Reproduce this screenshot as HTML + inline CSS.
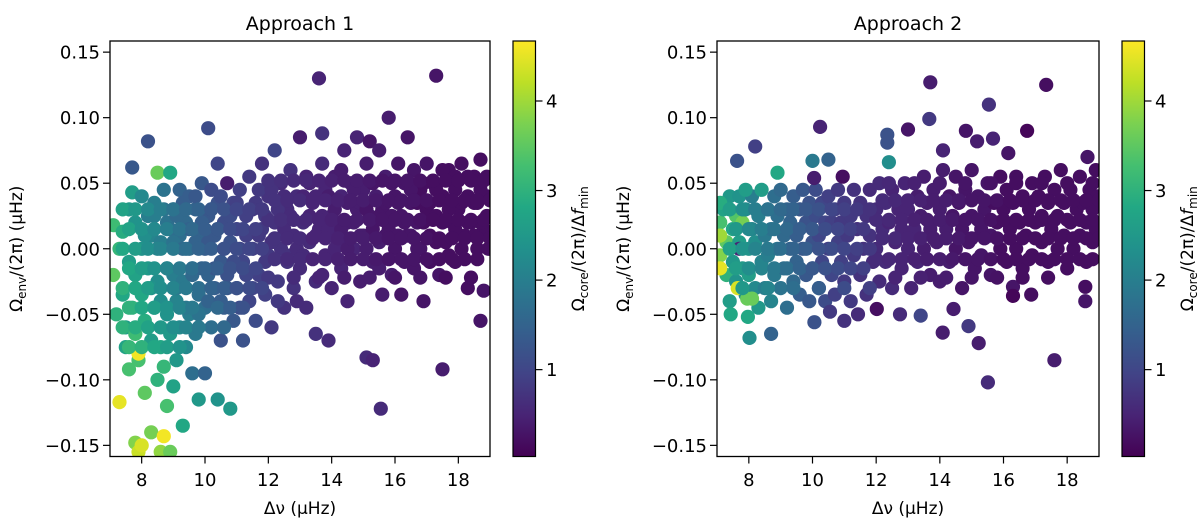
<!DOCTYPE html>
<html><head><meta charset="utf-8"><style>
html,body{margin:0;padding:0;background:#fff;}
svg{display:block;font-family:"DejaVu Sans","Liberation Sans",sans-serif;}
</style></head><body>
<svg id="fig" width="1200" height="523" viewBox="0 0 1200 523" xmlns="http://www.w3.org/2000/svg">
<defs>
<linearGradient id="vir" x1="0" y1="1" x2="0" y2="0">
<stop offset="0" stop-color="#440154"/><stop offset="0.1" stop-color="#482475"/><stop offset="0.2" stop-color="#414487"/><stop offset="0.3" stop-color="#355f8d"/><stop offset="0.4" stop-color="#2a788e"/><stop offset="0.5" stop-color="#21918c"/><stop offset="0.6" stop-color="#22a884"/><stop offset="0.7" stop-color="#44bf70"/><stop offset="0.8" stop-color="#7ad151"/><stop offset="0.9" stop-color="#bddf26"/><stop offset="1" stop-color="#fde725"/>
</linearGradient>
</defs>
</svg>
<script>
// ---- data: [dnu (uHz), Omega_env/2pi (uHz), Omega_core/2pi/dfmin]
const xTicks = [8,10,12,14,16,18];
const yTicks = [-0.15,-0.10,-0.05,0.00,0.05,0.10,0.15];
const yTickLabels = ["\u22120.15","\u22120.10","\u22120.05","0.00","0.05","0.10","0.15"];
const cTicks = [1,2,3,4];
const titles = ["Approach 1","Approach 2"];
const points1 = [[7.1,0.018,3.2],[7.1,-0.02,3.5],[7.2,-0.05,3.0],[7.3,-0.117,4.5],[7.3,0.0,3.1],[7.4,-0.035,2.8],[7.4,0.013,2.9],[7.5,-0.06,2.6],[7.5,-0.075,2.7],[7.6,0.03,2.5],[7.6,-0.01,2.6],[7.6,-0.092,3.3],[7.7,-0.045,3.0],[7.7,0.043,2.6],[7.7,0.062,1.3],[7.8,-0.065,3.2],[7.8,-0.02,2.7],[7.8,0.02,2.4],[7.8,-0.148,3.8],[7.9,-0.155,4.3],[7.9,-0.085,3.3],[7.9,-0.08,4.6],[8.0,0.0,2.4],[8.0,-0.035,2.8],[8.0,0.04,2.2],[8.0,-0.15,4.4],[8.1,-0.11,3.5],[8.1,-0.055,2.9],[8.2,0.082,1.2],[8.2,0.025,2.0],[8.2,-0.015,2.5],[8.3,-0.07,2.6],[8.3,-0.14,3.7],[8.3,0.01,2.1],[8.4,-0.045,2.6],[8.4,0.035,2.0],[8.5,-0.1,3.0],[8.5,-0.025,2.3],[8.5,0.058,3.6],[8.6,-0.075,2.8],[8.6,0.005,2.0],[8.6,-0.155,3.9],[8.7,0.045,1.8],[8.7,-0.09,3.1],[8.7,-0.143,4.6],[8.8,-0.05,2.4],[8.8,0.02,1.8],[8.8,-0.12,3.3],[8.9,-0.155,3.6],[8.9,-0.065,2.5],[8.9,0.058,2.8],[9.0,-0.02,2.0],[9.0,0.03,1.7],[9.0,-0.105,2.7],[9.1,-0.085,2.5],[9.1,-0.04,2.1],[9.2,0.01,1.7],[9.2,0.045,1.5],[9.2,-0.06,2.2],[9.3,-0.135,2.8],[9.3,-0.025,1.9],[9.4,0.02,1.6],[9.4,-0.075,2.2],[9.5,-0.05,2.0],[9.5,0.0,1.6],[9.5,0.04,1.4],[9.6,-0.095,1.7],[9.6,-0.015,1.7],[9.7,0.03,1.5],[9.7,-0.065,1.9],[9.8,-0.115,2.5],[9.8,0.01,1.5],[9.8,-0.035,1.7],[9.9,0.05,1.3],[10.0,-0.045,1.7],[10.0,0.0,1.4],[10.0,-0.095,1.5],[10.1,0.025,1.3],[10.1,0.092,1.1],[10.1,-0.02,1.5],[10.2,0.045,1.1],[10.2,-0.06,1.7],[10.3,0.01,1.3],[10.3,-0.03,1.4],[10.4,-0.115,2.4],[10.4,0.065,1.0],[10.4,0.035,1.2],[10.5,-0.01,1.3],[10.5,-0.07,1.2],[10.6,0.02,1.1],[10.6,-0.045,1.4],[10.7,0.05,0.4],[10.7,-0.02,1.2],[10.8,-0.122,2.5],[10.8,0.005,1.2],[10.9,0.035,1.0],[10.9,-0.055,1.3],[11.0,-0.03,1.1],[11.0,0.015,1.0],[11.1,0.045,0.9],[11.2,-0.01,1.0],[11.2,-0.07,1.2],[11.3,0.025,0.9],[11.4,-0.04,1.0],[11.4,0.055,0.8],[11.5,0.0,0.9],[11.6,-0.055,1.1],[11.6,0.035,0.8],[11.7,-0.02,0.9],[11.8,0.015,0.8],[11.8,0.065,0.7],[11.9,-0.035,0.9],[12.0,0.04,0.7],[12.0,-0.005,0.8],[12.1,-0.06,0.8],[12.2,0.02,0.7],[12.2,0.075,1.0],[12.3,-0.025,0.8],[12.4,0.05,0.6],[12.4,0.0,0.7],[12.5,-0.045,0.7],[12.6,0.03,0.6],[12.6,-0.01,0.7],[12.7,0.06,0.7],[12.8,-0.03,0.7],[12.8,0.01,0.6],[12.9,0.04,0.6],[13.0,-0.015,0.6],[13.0,0.085,0.4],[13.1,0.02,0.6],[13.2,-0.045,0.6],[13.2,0.055,0.5],[13.3,0.005,0.6],[13.4,0.035,0.5],[13.5,-0.025,0.6],[13.5,-0.065,0.7],[13.6,0.13,0.5],[13.6,0.015,0.5],[13.7,0.065,0.6],[13.7,0.088,0.7],[13.8,-0.005,0.5],[13.8,0.045,0.5],[13.9,-0.07,0.6],[14.0,0.025,0.5],[14.0,-0.03,0.5],[14.1,0.055,0.4],[14.2,0.005,0.5],[14.3,0.04,0.5],[14.3,-0.015,0.5],[14.4,0.075,0.5],[14.5,0.02,0.4],[14.5,-0.04,0.5],[14.6,0.05,0.4],[14.7,0.0,0.5],[14.8,0.03,0.4],[14.8,0.085,0.5],[14.9,-0.025,0.4],[15.0,0.045,0.4],[15.0,0.01,0.4],[15.1,-0.083,0.6],[15.1,0.065,0.4],[15.2,0.025,0.4],[15.2,0.082,0.3],[15.3,-0.01,0.4],[15.3,-0.085,0.5],[15.4,0.04,0.4],[15.5,0.005,0.4],[15.5,0.075,0.4],[15.55,-0.122,0.6],[15.6,0.03,0.3],[15.6,-0.035,0.4],[15.7,0.055,0.4],[15.8,0.015,0.3],[15.8,0.1,0.4],[15.9,-0.02,0.4],[16.0,0.04,0.3],[16.0,0.0,0.3],[16.1,0.065,0.3],[16.2,0.025,0.3],[16.2,-0.035,0.3],[16.3,0.05,0.3],[16.4,0.01,0.3],[16.4,0.085,0.3],[16.5,0.035,0.3],[16.6,-0.015,0.3],[16.6,0.06,0.3],[16.7,0.02,0.3],[16.8,0.045,0.2],[16.8,0.0,0.3],[16.9,-0.04,0.3],[17.0,0.03,0.2],[17.0,0.065,0.3],[17.1,0.01,0.2],[17.2,0.05,0.2],[17.3,0.132,0.3],[17.3,0.025,0.2],[17.4,-0.02,0.3],[17.5,0.04,0.2],[17.5,-0.092,0.4],[17.6,0.005,0.2],[17.7,0.06,0.2],[17.8,0.02,0.2],[17.9,0.045,0.2],[17.9,-0.01,0.2],[18.0,0.03,0.2],[18.1,0.065,0.2],[18.2,0.01,0.2],[18.3,0.04,0.2],[18.3,-0.03,0.2],[18.4,0.02,0.2],[18.5,0.055,0.2],[18.6,0.0,0.2],[18.6,0.035,0.2],[18.7,0.068,0.2],[18.7,-0.055,0.3],[18.8,0.015,0.2],[18.8,-0.032,0.3],[18.9,0.04,0.2],[18.95,0.0,0.2],
[8.1,0.01,2.3],[8.3,-0.03,2.4],[8.4,0.025,2.0],[8.5,0.0,2.1],[8.6,-0.04,2.3],[8.7,0.03,1.8],[8.8,-0.015,2.0],[8.9,0.015,1.7],[9.0,0.005,1.8],[9.1,-0.03,1.9],[9.1,0.025,1.6],[9.3,0.0,1.6],[9.3,0.035,1.4],[9.4,-0.045,1.9],[9.5,0.015,1.5],[9.6,-0.02,1.6],[9.7,0.005,1.5],[9.7,0.04,1.3],[9.8,-0.05,1.8],[9.9,0.02,1.4],[9.9,-0.015,1.5],[10.1,-0.04,1.5],[10.1,0.005,1.3],[10.2,0.03,1.2],[10.3,-0.015,1.3],[10.4,0.015,1.2],[10.5,-0.04,1.4],[10.5,0.04,1.1],[10.6,0.0,1.2],[10.7,-0.03,1.3],[10.8,0.025,1.1],[10.9,-0.01,1.1],[11.0,0.035,0.9],[11.1,-0.045,1.1],[11.1,0.0,1.0],[11.3,0.01,0.9],[11.3,-0.02,1.0],[11.5,0.03,0.8],[11.5,-0.03,1.0],[11.7,0.01,0.8],[11.7,0.045,0.8],[11.9,-0.01,0.8],[11.9,0.025,0.8],[12.1,0.005,0.7],[12.1,0.045,0.7],[12.3,0.03,0.7],[12.3,-0.04,0.8],[12.5,0.015,0.6],[12.5,0.04,0.6],[12.7,-0.005,0.7],[12.7,0.025,0.6],[12.9,0.0,0.6],[12.9,-0.04,0.6],[13.1,0.04,0.5],[13.1,-0.005,0.6],[13.3,0.025,0.5],[13.3,0.05,0.5],[13.5,0.01,0.5],[13.5,0.04,0.5],[13.7,0.025,0.5],[13.7,-0.02,0.5],[13.9,0.015,0.5],[13.9,0.04,0.4],[14.1,0.0,0.5],[14.1,0.03,0.4],[14.3,0.015,0.4],[14.3,0.06,0.4],[14.5,0.035,0.4],[14.5,0.0,0.4],[14.7,0.02,0.4],[14.7,0.045,0.4],[14.9,0.01,0.4],[14.9,0.035,0.4],[15.1,0.0,0.4],[15.1,0.03,0.3],[15.3,0.015,0.3],[15.3,0.05,0.3],[15.5,0.025,0.3],[15.5,-0.015,0.4],[15.7,0.01,0.3],[15.7,0.035,0.3],[15.9,0.025,0.3],[15.9,0.05,0.3],[16.1,0.01,0.3],[16.1,0.035,0.3],[16.3,0.02,0.3],[16.3,-0.01,0.3],[16.5,0.045,0.3],[16.5,0.01,0.3],[16.7,0.035,0.2],[16.7,0.0,0.3],[16.9,0.02,0.2],[16.9,0.05,0.2],[17.1,0.035,0.2],[17.1,-0.01,0.2],[17.3,0.045,0.2],[17.3,0.005,0.2],[17.5,0.02,0.2],[17.5,0.06,0.2],[17.7,0.03,0.2],[17.7,-0.005,0.2],[17.9,0.015,0.2],[17.9,0.055,0.2],[18.1,0.035,0.2],[18.1,0.0,0.2],[18.3,0.02,0.2],[18.3,0.055,0.2],[18.5,0.035,0.2],[18.5,0.01,0.2],[18.7,0.045,0.2],[18.7,0.02,0.2],[18.9,0.025,0.2],[18.9,0.055,0.2],
[12.2,0.008,0.7],[12.6,0.008,0.6],[13.0,0.008,0.6],[13.4,0.008,0.5],[13.8,0.008,0.5],[14.2,0.008,0.45],[14.6,0.008,0.4],[15.0,0.008,0.4],[15.4,0.008,0.35],[15.8,0.008,0.3],[16.2,0.008,0.3],[16.6,0.008,0.3],[17.0,0.008,0.25],[17.4,0.008,0.2],[17.8,0.008,0.2],[18.2,0.008,0.2],[18.6,0.008,0.2],[19.0,0.008,0.2],
[12.0,0.022,0.7],[12.4,0.022,0.65],[12.8,0.022,0.6],[13.2,0.022,0.55],[13.6,0.022,0.5],[14.0,0.022,0.45],[14.4,0.022,0.4],[14.8,0.022,0.4],[15.2,0.022,0.35],[15.6,0.022,0.3],[16.0,0.022,0.3],[16.4,0.022,0.3],[16.8,0.022,0.25],[17.2,0.022,0.2],[17.6,0.022,0.2],[18.0,0.022,0.2],[18.4,0.022,0.2],[18.8,0.022,0.2],
[12.2,0.037,0.7],[12.6,0.037,0.6],[13.0,0.037,0.6],[13.4,0.037,0.5],[13.8,0.037,0.5],[14.2,0.037,0.45],[14.6,0.037,0.4],[15.0,0.037,0.4],[15.4,0.037,0.35],[15.8,0.037,0.3],[16.2,0.037,0.3],[16.6,0.037,0.3],[17.0,0.037,0.25],[17.4,0.037,0.2],[17.8,0.037,0.2],[18.2,0.037,0.2],[18.6,0.037,0.2],[19.0,0.037,0.2],
[12.0,0.052,0.7],[12.4,0.052,0.65],[12.8,0.052,0.6],[13.2,0.052,0.55],[13.6,0.052,0.5],[14.0,0.052,0.45],[14.4,0.052,0.4],[14.8,0.052,0.4],[15.2,0.052,0.35],[15.6,0.052,0.3],[16.0,0.052,0.3],[16.4,0.052,0.3],[16.8,0.052,0.25],[17.2,0.052,0.2],[17.6,0.052,0.2],[18.0,0.052,0.2],[18.4,0.052,0.2],[18.8,0.052,0.2],
[12.2,-0.008,0.7],[12.6,-0.008,0.6],[13.0,-0.008,0.6],[13.4,-0.008,0.5],[13.8,-0.008,0.5],[14.2,-0.008,0.45],[14.6,-0.008,0.4],[15.0,-0.008,0.4],[15.4,-0.008,0.35],[15.8,-0.008,0.3],[16.2,-0.008,0.3],[16.6,-0.008,0.3],[17.0,-0.008,0.25],[17.4,-0.008,0.2],[17.8,-0.008,0.2],[18.2,-0.008,0.2],[18.6,-0.008,0.2],
[12.0,-0.022,0.8],[12.8,-0.022,0.6],[13.6,-0.022,0.5],[14.4,-0.022,0.4],[15.2,-0.022,0.4],[16.0,-0.022,0.3],[16.8,-0.022,0.3],[17.6,-0.022,0.2],[18.4,-0.022,0.2],
[7.4,0.03,2.7],[7.8,0.03,2.5],[8.2,0.03,2.2],[8.6,0.03,2.0],[9.0,0.03,1.8],[9.4,0.03,1.6],[9.8,0.03,1.5],[10.2,0.03,1.3],[10.6,0.03,1.2],[11.0,0.03,1.0],[11.4,0.03,0.9],[11.8,0.03,0.8],
[7.6,0.015,2.7],[8.0,0.015,2.4],[8.4,0.015,2.2],[8.8,0.015,2.0],[9.2,0.015,1.8],[9.6,0.015,1.6],[10.0,0.015,1.4],[10.4,0.015,1.3],[10.8,0.015,1.1],[11.2,0.015,1.0],[11.6,0.015,0.9],
[7.4,0.0,2.8],[7.8,0.0,2.6],[8.2,0.0,2.3],[8.6,0.0,2.1],[9.0,0.0,1.9],[9.4,0.0,1.7],[9.8,0.0,1.5],[10.2,0.0,1.4],[10.6,0.0,1.2],[11.0,0.0,1.1],[11.4,0.0,1.0],[11.8,0.0,0.9],
[7.6,-0.015,2.8],[8.0,-0.015,2.6],[8.4,-0.015,2.4],[8.8,-0.015,2.1],[9.2,-0.015,1.9],[9.6,-0.015,1.7],[10.0,-0.015,1.5],[10.4,-0.015,1.4],[10.8,-0.015,1.2],[11.2,-0.015,1.1],[11.6,-0.015,1.0],
[7.4,-0.03,3.0],[7.8,-0.03,2.8],[8.2,-0.03,2.6],[8.6,-0.03,2.3],[9.0,-0.03,2.1],[9.4,-0.03,1.9],[9.8,-0.03,1.7],[10.2,-0.03,1.5],[10.6,-0.03,1.4],[11.0,-0.03,1.2],[11.4,-0.03,1.1],[11.8,-0.03,1.0],
[7.6,-0.045,3.0],[8.0,-0.045,2.8],[8.4,-0.045,2.6],[8.8,-0.045,2.4],[9.2,-0.045,2.1],[9.6,-0.045,1.9],[10.4,-0.045,1.6],[10.8,-0.045,1.4],[11.2,-0.045,1.2],
[7.4,-0.06,3.0],[7.8,-0.06,2.9],[8.2,-0.06,2.7],[8.6,-0.06,2.5],[9.0,-0.06,2.3],[9.4,-0.06,2.1],[9.8,-0.06,1.9],[10.6,-0.06,1.6],
[7.6,-0.075,3.1],[8.0,-0.075,3.0],[8.4,-0.075,2.8],[8.8,-0.075,2.6],[9.2,-0.075,2.4]];
const points2 = [[7.1,0.02,3.3],[7.1,-0.005,3.8],[7.2,0.03,2.7],[7.3,-0.02,3.0],[7.3,0.005,3.5],[7.4,0.04,2.5],[7.4,-0.04,2.6],[7.5,0.015,2.8],[7.5,-0.01,2.5],[7.6,0.025,3.4],[7.6,-0.025,2.4],[7.7,0.005,2.6],[7.7,0.04,2.4],[7.8,-0.015,2.5],[7.8,0.02,3.7],[7.9,-0.035,2.3],[7.9,0.03,2.2],[8.0,0.0,2.4],[8.0,-0.02,2.6],[8.1,0.015,2.1],[8.1,0.04,2.0],[8.2,-0.03,2.2],[8.2,0.005,2.3],[8.3,0.025,2.0],[8.3,-0.045,2.5],[8.4,-0.01,2.1],[8.4,0.045,2.6],[8.5,0.01,1.9],[8.5,-0.03,2.0],[8.6,0.03,1.8],[8.6,-0.005,2.0],[8.7,-0.04,2.1],[8.7,0.015,1.8],[8.8,0.04,1.7],[8.8,-0.02,1.9],[8.9,0.0,1.8],[8.9,0.025,1.7],[9.0,-0.03,1.8],[9.0,0.045,1.6],[9.1,0.01,1.6],[9.1,-0.015,1.7],[9.2,0.03,1.5],[9.2,-0.045,1.7],[9.3,0.0,1.5],[9.3,0.02,1.5],[9.4,-0.025,1.6],[9.4,0.04,1.4],[9.5,0.01,1.4],[9.5,-0.01,1.5],[9.6,0.03,1.3],[9.6,-0.035,1.4],[9.7,0.0,1.3],[9.7,0.045,1.3],[9.8,-0.02,1.3],[9.8,0.02,1.2],[9.9,0.035,1.2],[9.9,-0.04,1.3],[10.0,0.005,1.2],[10.0,-0.015,1.2],[10.1,0.025,1.1],[10.1,0.045,1.1],[10.2,-0.03,1.1],[10.2,0.01,1.0],[10.3,0.035,1.0],[10.3,-0.01,1.0],[10.4,0.02,1.0],[10.4,-0.04,1.1],[10.5,0.0,0.9],[10.5,0.04,0.9],[10.6,-0.02,1.0],[10.6,0.02,0.9],[10.7,0.03,0.9],[10.7,-0.035,0.9],[10.8,0.005,0.9],[10.8,0.045,0.8],[10.9,-0.01,0.9],[10.9,0.02,0.8],[11.0,0.035,0.8],[11.0,-0.025,0.8],[11.1,0.01,0.8],[11.2,-0.04,0.8],[11.2,0.025,0.8],[11.3,0.045,0.7],[11.3,-0.005,0.8],[11.4,0.015,0.7],[11.5,-0.02,0.7],[11.5,0.035,0.7],[11.6,0.0,0.7],[11.7,0.025,0.7],[11.7,-0.035,0.7],[11.8,0.045,0.6],[11.8,0.01,0.7],[11.9,-0.01,0.6],[12.0,0.03,0.6],[12.0,0.0,0.6],[12.1,0.05,0.6],[12.1,-0.025,0.6],[12.2,0.015,0.6],[12.3,0.035,0.6],[12.3,-0.01,0.6],[12.4,0.02,0.5],[12.5,0.045,0.5],[12.5,-0.03,0.6],[12.6,0.005,0.5],[12.7,0.03,0.5],[12.8,-0.015,0.5],[12.8,0.015,0.5],[12.9,0.05,0.5],[13.0,0.0,0.5],[13.0,0.03,0.5],[13.1,-0.03,0.5],[13.2,0.015,0.5],[13.3,0.04,0.4],[13.3,-0.01,0.5],[13.4,0.025,0.4],[13.5,0.055,0.4],[13.5,0.0,0.4],[13.6,0.035,0.4],[13.7,-0.02,0.4],[13.7,0.015,0.4],[13.8,0.045,0.4],[13.9,0.005,0.4],[14.0,0.03,0.4],[14.0,-0.025,0.4],[14.1,0.06,0.4],[14.2,0.015,0.4],[14.3,0.04,0.3],[14.3,-0.01,0.4],[14.4,0.025,0.3],[14.5,0.055,0.3],[14.5,0.0,0.3],[14.6,0.035,0.3],[14.7,0.015,0.3],[14.7,-0.03,0.3],[14.8,0.045,0.3],[14.9,0.005,0.3],[15.0,0.025,0.3],[15.0,0.06,0.3],[15.1,-0.015,0.3],[15.2,0.04,0.3],[15.3,0.015,0.3],[15.3,-0.005,0.3],[15.4,0.03,0.3],[15.5,0.05,0.3],[15.6,0.01,0.3],[15.6,-0.02,0.3],[15.7,0.035,0.2],[15.8,0.02,0.2],[15.9,0.055,0.2],[15.9,0.0,0.2],[16.0,0.03,0.2],[16.1,0.045,0.2],[16.1,-0.01,0.2],[16.2,0.015,0.2],[16.3,0.035,0.2],[16.4,0.0,0.2],[16.4,0.055,0.2],[16.5,0.02,0.2],[16.6,0.04,0.2],[16.6,-0.015,0.2],[16.7,0.01,0.2],[16.8,0.03,0.2],[16.9,0.05,0.2],[16.9,-0.005,0.2],[17.0,0.02,0.2],[17.1,0.04,0.2],[17.2,0.005,0.2],[17.2,0.025,0.2],[17.3,0.055,0.2],[17.4,-0.01,0.2],[17.4,0.035,0.2],[17.5,0.015,0.2],[17.6,0.045,0.2],[17.7,0.0,0.2],[17.7,0.025,0.2],[17.8,0.06,0.2],[17.9,0.035,0.2],[17.9,0.01,0.2],[18.0,-0.015,0.2],[18.1,0.045,0.2],[18.1,0.02,0.2],[18.2,0.0,0.2],[18.3,0.03,0.2],[18.4,0.055,0.2],[18.4,0.01,0.2],[18.5,0.035,0.2],[18.6,-0.01,0.2],[18.6,0.02,0.2],[18.7,0.045,0.2],[18.8,0.005,0.2],[18.8,0.03,0.2],[18.9,0.015,0.2],[18.95,0.04,0.2],[18.9,0.06,0.2],
[13.7,0.127,0.4],[17.34,0.125,0.2],[15.54,0.11,0.7],[13.67,0.099,0.8],[10.24,0.093,0.5],[13.0,0.091,0.3],[14.82,0.09,0.3],[16.74,0.09,0.1],[12.35,0.087,1.2],[12.35,0.081,1.2],[15.17,0.082,0.4],[15.67,0.084,0.5],[8.2,0.078,0.9],[7.63,0.067,1.2],[18.64,0.07,0.3],[16.15,0.073,0.3],[14.1,0.075,0.5],[16.3,-0.029,0.3],[16.3,-0.036,0.1],[16.87,-0.035,0.2],[18.57,-0.029,0.2],[18.57,-0.04,0.3],[14.09,-0.064,0.4],[14.9,-0.059,0.8],[15.22,-0.072,0.4],[17.6,-0.085,0.4],[15.51,-0.102,0.6],[14.43,-0.046,0.4],[12.02,-0.046,0.2],[12.75,-0.05,0.6],[13.4,-0.051,1.0],[11.43,-0.05,0.6],[11.0,-0.055,0.7],[10.55,-0.048,0.8],[10.06,-0.056,1.2],[8.02,-0.068,2.3],[8.7,-0.065,1.5],[7.43,-0.05,2.8],[7.97,-0.052,2.8],[7.95,-0.038,3.6],[8.1,-0.038,3.6],[7.65,-0.03,4.4],[7.1,-0.015,4.5],[7.1,0.01,4.0],[7.1,0.035,2.9],[8.9,0.058,2.8],[7.9,0.045,2.6],[10.0,0.067,1.9],[10.5,0.068,1.5],[12.4,0.066,2.3],[10.95,0.055,0.2],[10.05,0.054,0.4],[7.7,0.0,0.5],
[12.2,0.008,0.6],[12.6,0.008,0.55],[13.0,0.008,0.5],[13.4,0.008,0.45],[13.8,0.008,0.4],[14.2,0.008,0.4],[14.6,0.008,0.35],[15.0,0.008,0.3],[15.4,0.008,0.3],[15.8,0.008,0.25],[16.2,0.008,0.2],[16.6,0.008,0.2],[17.0,0.008,0.2],[17.4,0.008,0.2],[17.8,0.008,0.2],[18.2,0.008,0.2],[18.6,0.008,0.2],[19.0,0.008,0.2],
[12.0,0.022,0.6],[12.4,0.022,0.55],[12.8,0.022,0.5],[13.2,0.022,0.45],[13.6,0.022,0.4],[14.0,0.022,0.4],[14.4,0.022,0.35],[14.8,0.022,0.3],[15.2,0.022,0.3],[15.6,0.022,0.25],[16.0,0.022,0.2],[16.4,0.022,0.2],[16.8,0.022,0.2],[17.2,0.022,0.2],[17.6,0.022,0.2],[18.0,0.022,0.2],[18.4,0.022,0.2],[18.8,0.022,0.2],
[12.2,0.037,0.6],[12.6,0.037,0.55],[13.0,0.037,0.5],[13.4,0.037,0.45],[13.8,0.037,0.4],[14.2,0.037,0.4],[14.6,0.037,0.35],[15.0,0.037,0.3],[15.4,0.037,0.3],[15.8,0.037,0.25],[16.2,0.037,0.2],[16.6,0.037,0.2],[17.0,0.037,0.2],[17.4,0.037,0.2],[17.8,0.037,0.2],[18.2,0.037,0.2],[18.6,0.037,0.2],[19.0,0.037,0.2],
[12.4,0.05,0.55],[13.2,0.05,0.45],[14.0,0.05,0.4],[14.8,0.05,0.3],[15.6,0.05,0.25],[16.4,0.05,0.2],[17.2,0.05,0.2],[18.0,0.05,0.2],[18.8,0.05,0.2],
[12.0,-0.008,0.6],[12.4,-0.008,0.55],[12.8,-0.008,0.5],[13.2,-0.008,0.45],[13.6,-0.008,0.4],[14.0,-0.008,0.4],[14.4,-0.008,0.35],[14.8,-0.008,0.3],[15.2,-0.008,0.3],[15.6,-0.008,0.25],[16.0,-0.008,0.2],[16.4,-0.008,0.2],[16.8,-0.008,0.2],[17.2,-0.008,0.2],[17.6,-0.008,0.2],[18.0,-0.008,0.2],[18.4,-0.008,0.2],[18.8,-0.008,0.2],
[12.6,-0.022,0.5],[13.4,-0.022,0.45],[14.2,-0.022,0.4],[15.0,-0.022,0.3],[15.8,-0.022,0.25],[16.6,-0.022,0.2],[17.4,-0.022,0.2],
[7.4,0.03,2.6],[7.8,0.03,2.3],[8.2,0.03,2.0],[8.6,0.03,1.8],[9.0,0.03,1.6],[9.4,0.03,1.5],[9.8,0.03,1.3],[10.2,0.03,1.2],[10.6,0.03,1.0],[11.0,0.03,0.9],[11.4,0.03,0.8],[11.8,0.03,0.7],
[7.6,0.015,2.5],[8.0,0.015,2.2],[8.4,0.015,2.0],[8.8,0.015,1.8],[9.2,0.015,1.6],[9.6,0.015,1.4],[10.0,0.015,1.3],[10.4,0.015,1.1],[10.8,0.015,1.0],[11.2,0.015,0.9],[11.6,0.015,0.8],
[7.4,0.0,2.7],[7.8,0.0,2.4],[8.2,0.0,2.1],[8.6,0.0,1.9],[9.0,0.0,1.7],[9.4,0.0,1.5],[9.8,0.0,1.4],[10.2,0.0,1.2],[10.6,0.0,1.1],[11.0,0.0,1.0],[11.4,0.0,0.9],[11.8,0.0,0.8],
[7.6,-0.015,2.6],[8.0,-0.015,2.3],[8.4,-0.015,2.1],[8.8,-0.015,1.9],[9.2,-0.015,1.7],[9.6,-0.015,1.5],[10.0,-0.015,1.3],[10.4,-0.015,1.2],[10.8,-0.015,1.1],[11.2,-0.015,1.0],[11.6,-0.015,0.9],
[7.8,-0.03,2.5],[8.6,-0.03,2.1],[9.4,-0.03,1.7],[10.2,-0.03,1.4],[11.0,-0.03,1.1],[11.8,-0.03,0.9]];

const NS = "http://www.w3.org/2000/svg";
const svg = document.getElementById("fig");
const panels = [{L:110,R:490,data:points1,cb:513},{L:717,R:1099,data:points2,cb:1122}];
const T = 41, B = 456.5, XMIN = 7, XMAX = 19, YMIN = -0.1585, YMAX = 0.1585, CMIN = 0.03, CMAX = 4.67;
const vstops = ["#440154","#482475","#414487","#355f8d","#2a788e","#21918c","#22a884","#44bf70","#7ad151","#bddf26","#fde725"];
function hex(h){return [parseInt(h.substr(1,2),16),parseInt(h.substr(3,2),16),parseInt(h.substr(5,2),16)];}
function viridis(c){
  let t = Math.max(0, Math.min(1, (c - CMIN)/(CMAX - CMIN)))*10;
  const i = Math.min(9, Math.floor(t)), f = t - i;
  const a = hex(vstops[i]), b = hex(vstops[i+1]);
  return "rgb(" + a.map((v,k)=>Math.round(v+(b[k]-v)*f)).join(",") + ")";
}
function el(tag, attrs, parent){
  const e = document.createElementNS(NS, tag);
  for (const k in attrs) e.setAttribute(k, attrs[k]);
  (parent || svg).appendChild(e);
  return e;
}
function ylabel(parent, x, y, main, sub, tail, italicF){
  const t = el("text", {x:x, y:y, "font-size":"17", "text-anchor":"middle", transform:"rotate(-90 "+x+" "+y+")"}, parent);
  t.appendChild(document.createTextNode(main));
  const s = el("tspan", {"font-size":"12", dy:"4"}, t); s.textContent = sub;
  const r = el("tspan", {dy:"-4"}, t); r.textContent = tail;
  if (italicF){
    const f = el("tspan", {"font-style":"italic"}, t); f.textContent = "f";
    const s2 = el("tspan", {"font-size":"12", dy:"4"}, t); s2.textContent = "min";
  }
  return t;
}
panels.forEach((p, pi) => {
  const g = el("g", {});
  
  
  const sx = v => p.L + (v - XMIN)/(XMAX - XMIN)*(p.R - p.L);
  const sy = v => B - (v - YMIN)/(YMAX - YMIN)*(B - T);
  const clip = el("clipPath", {id:"clip"+pi}, g);
  el("rect", {x:p.L, y:T, width:p.R-p.L, height:B-T}, clip);
  const pts = el("g", {"clip-path":"url(#clip"+pi+")"}, g);
  
  
  p.data.forEach(d => {
    const c = el("circle", {cx:sx(d[0]).toFixed(1), cy:sy(d[1]).toFixed(1), r:7.1, fill:viridis(d[2])}, pts);
    
    
  });
  const frame = el("rect", {x:p.L, y:T, width:p.R-p.L, height:B-T, fill:"none", stroke:"#000", "stroke-width":"1.3"}, g);
  
  
  xTicks.forEach(v => {
    el("line", {x1:sx(v), x2:sx(v), y1:B, y2:B+7, stroke:"#000", "stroke-width":"1.2"}, g);
    const t = el("text", {x:sx(v), y:486, "font-size":"18", "text-anchor":"middle"}, g);
    t.textContent = v;
    
    
  });
  yTicks.forEach((v, i) => {
    el("line", {x1:p.L-7, x2:p.L, y1:sy(v), y2:sy(v), stroke:"#000", "stroke-width":"1.2"}, g);
    const t = el("text", {x:p.L-10, y:sy(v)+6.5, "font-size":"18", "text-anchor":"end"}, g);
    t.textContent = yTickLabels[i];
    
    
  });
  const ttl = el("text", {x:(p.L+p.R)/2, y:30, "font-size":"19", "text-anchor":"middle"}, g);
  ttl.textContent = titles[pi];
  
  
  const xl = el("text", {x:(p.L+p.R)/2, y:514, "font-size":"17", "text-anchor":"middle"}, g);
  xl.textContent = "\u0394\u03bd (\u03bcHz)";
  
  
  const yl = ylabel(g, p.L-88, (T+B)/2, "\u03a9", "env", "/(2\u03c0) (\u03bcHz)", false);
  
  
  const cb = el("rect", {x:p.cb, y:T, width:22.5, height:B-T, fill:"url(#vir)", stroke:"#000", "stroke-width":"1.2"}, g);
  
  
  const cy = v => B - (v - CMIN)/(CMAX - CMIN)*(B - T);
  cTicks.forEach(v => {
    el("line", {x1:p.cb+22.5, x2:p.cb+29.5, y1:cy(v), y2:cy(v), stroke:"#000", "stroke-width":"1.2"}, g);
    const t = el("text", {x:p.cb+33, y:cy(v)+6.5, "font-size":"18"}, g);
    t.textContent = v;
    
    
  });
  const cl = ylabel(g, p.cb+71, (T+B)/2, "\u03a9", "core", "/(2\u03c0)/\u0394", true);
  
  
});
</script>
</body></html>
